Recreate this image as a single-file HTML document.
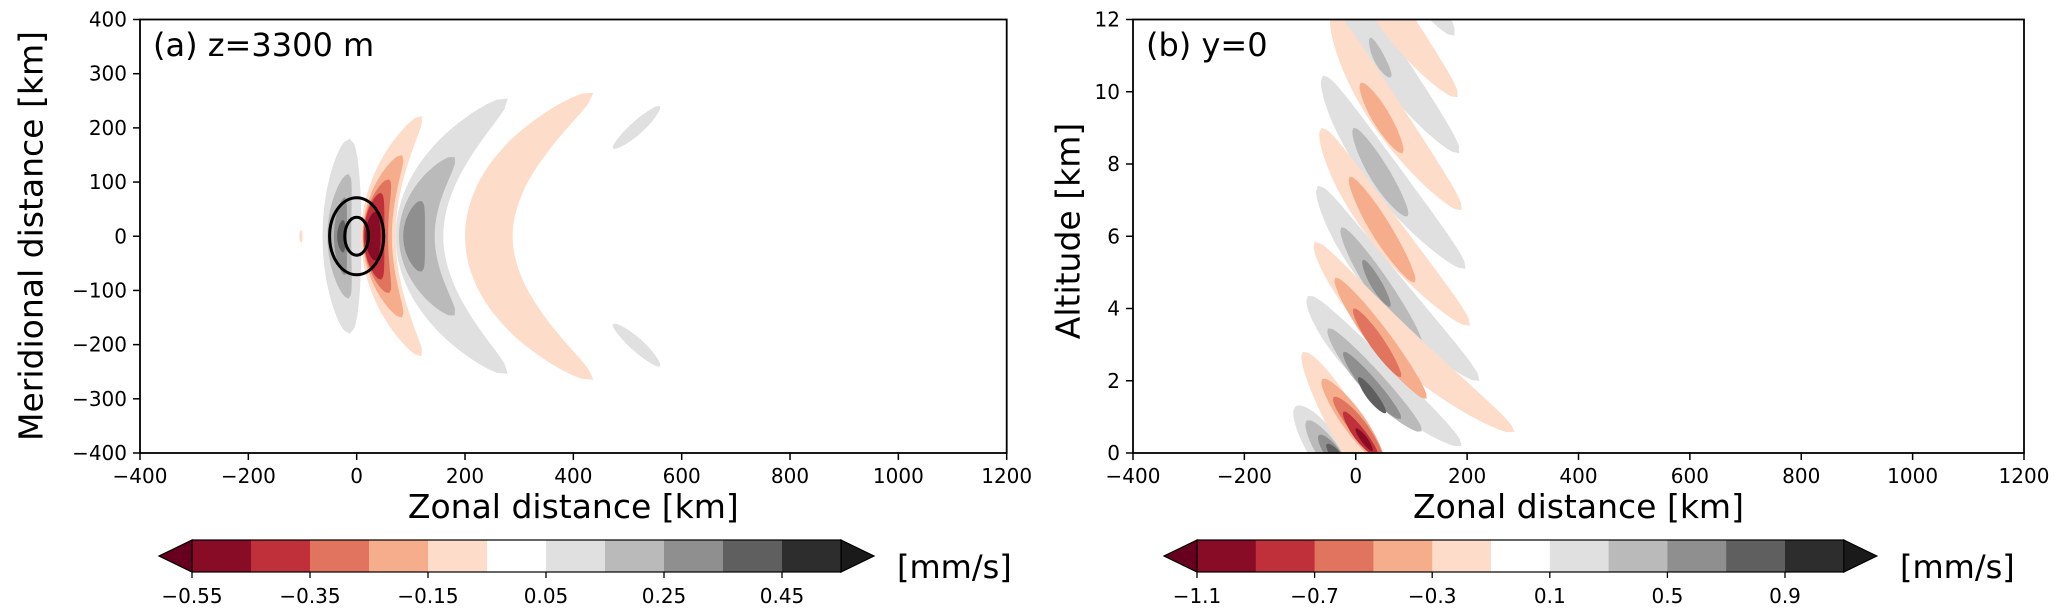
<!DOCTYPE html>
<html><head><meta charset="utf-8">
<style>
html,body{margin:0;padding:0;background:#fff;}
svg{display:block;font-family:"DejaVu Sans","Liberation Sans",sans-serif;}
</style></head>
<body>
<svg id="fig" width="2067" height="615" viewBox="0 0 2067 615" xmlns="http://www.w3.org/2000/svg">
<defs>
<clipPath id="clipA"><rect x="140" y="19.5" width="866.7" height="433.5"/></clipPath>
<clipPath id="clipB"><rect x="1133" y="19.5" width="891" height="433.5"/></clipPath>
</defs>
<rect width="2067" height="615" fill="#fff"/>
<g id="fieldA" clip-path="url(#clipA)"></g>
<g id="fieldB" clip-path="url(#clipB)"></g>
<g id="axes"></g>
</svg>
<script>
// ---- colour levels (RdGy_r, 11 bins) ----
const levelColors = ['#890c26','#c0303a','#e0745e','#f5ad8c','#fddcc9','#ffffff','#e0e0e0','#bababa','#8f8f8f','#5f5f5f','#2d2d2d'];
const underColor = '#67001f';
const overColor = '#1a1a1a';

// ---- panel a data (km): upper tip, middle, lower tip, half-width, level index ----
const aTipTopX = [-13,-15,-22,-25, 120,84,60,45,35, 279,181,120, 437, 560,473, -102];
const aTipTopY = [180,115,72,30, 222,150,105,80,45, 254,146,65, 265, 240,-162, 12];
const aMidX    = [-27,-32,-30,-28, 40,38,35,32,30, 116,111,106, 244, 517,517, -103];
const aMidY    = [0,0,0,0, 0,0,0,0,0, 0,0,0, 0, 200,-200, 0];
const aTipBotX = [-13,-15,-22,-25, 120,84,60,45,35, 279,181,120, 437, 473,560, -102];
const aTipBotY = [-180,-115,-72,-30, -222,-150,-105,-80,-45, -254,-146,-65, -265, 162,-240, -12];
const aHalfW   = [36,22,12,8, 32,27,23,19,14, 44,33,20, 44, 12,12, 3];
const aLevel   = [6,7,8,9, 4,3,2,1,0, 6,7,8, 4, 6,6, 4];
const ringRx = [50, 22];
const ringRy = [71, 35];

// ---- panel b data (x km, z km) ----
const bX0 = [-108,-88,-66,-52, -86,-50,-22,5, -68,-26,13, -59,-4, -44,26, -32,
             -95,-60,-40,-22,0, -74,-37,-4, -62,-11, -42,9, -38];
const bZ0 = [1.3,0.9,0.5,0.25, 4.35,3.45,2.8,2.1, 7.4,6.25,5.35, 10.45,9.0, 13.6,11.5, 16.9,
             2.8,2.05,1.55,1.15,0.68, 5.85,4.85,4.0, 9.0,7.65, 12.2,10.25, 15.2];
const bX1 = [-55,-48,-42,-38, 27,30,27,28, 50,42,36, 45,42, 50,43, 55,
             -20,-5,3,8,15, 75,40,36, 45,45, 50,45, 50];
const bZ1 = [0.1,0,0,0, 2.3,1.95,1.85,1.6, 4.7,4.6,4.7, 7.8,7.75, 11.0,10.9, 14.3,
             0.8,0.9,0.75,0.5,0.38, 3.1,3.2,3.1, 6.3,6.2, 9.5,9.3, 12.5];
const bX2 = [-5,-10,-18,-25, 190,118,81,54, 222,118,62, 197,93, 186,63, 177,
             45,50,48,40,30, 285,127,81, 205,106, 190,84, 183];
const bZ2 = [-1.2,-0.9,-0.5,-0.2, 0.2,0.6,0.95,1.1, 2.0,3.0,4.05, 5.1,6.55, 8.3,10.4, 11.55,
             -1.2,-0.3,-0.2,-0.1,0.05, 0.58,1.5,2.1, 3.52,4.72, 6.72,8.3, 9.85];
const bHalfW = [30,20,13,8, 31,21,14,9, 31,20,10, 31,18, 31,10, 31,
                29,20,15,11,6, 31,20,13, 31,18, 31,16, 31];
const bLevel = [6,7,8,9, 6,7,8,9, 6,7,8, 6,7, 6,7, 6,
                4,3,2,1,0, 4,3,2, 4,3, 4,3, 4];

// ---- axes / ticks ----
const xTicks = [-400,-200,0,200,400,600,800,1000,1200];
const yTicksA = [-400,-300,-200,-100,0,100,200,300,400];
const yTicksB = [0,2,4,6,8,10,12];
const cbTicksA = ['−0.55','−0.35','−0.15','0.05','0.25','0.45'];
const cbTicksB = ['−1.1','−0.7','−0.3','0.1','0.5','0.9'];

const NS='http://www.w3.org/2000/svg';
function el(tag,attrs,parent){const e=document.createElementNS(NS,tag);for(const k in attrs)e.setAttribute(k,attrs[k]);parent.appendChild(e);return e;}

const axA={l:140,t:19.5,w:866.7,h:433.5,xmin:-400,xmax:1200,ymin:-400,ymax:400};
const axB={l:1133,t:19.5,w:891,h:433.5,xmin:-400,xmax:1200,ymin:0,ymax:12};
function sx(ax,v){return ax.l+(v-ax.xmin)/(ax.xmax-ax.xmin)*ax.w;}
function sy(ax,v){return ax.t+ax.h-(v-ax.ymin)/(ax.ymax-ax.ymin)*ax.h;}
function kmpx(ax){return ax.w/(ax.xmax-ax.xmin);}

function band(g,ax,x0,y0,x1,y1,x2,y2,hw,color){
  const P0=[sx(ax,x0),sy(ax,y0)],P1=[sx(ax,x1),sy(ax,y1)],P2=[sx(ax,x2),sy(ax,y2)];
  const C=[2*P1[0]-0.5*(P0[0]+P2[0]),2*P1[1]-0.5*(P0[1]+P2[1])];
  const w=hw*kmpx(ax);const N=48;const L=[],R=[];
  for(let i=0;i<=N;i++){const t=i/N;
    const bx=(1-t)*(1-t)*P0[0]+2*t*(1-t)*C[0]+t*t*P2[0];
    const by=(1-t)*(1-t)*P0[1]+2*t*(1-t)*C[1]+t*t*P2[1];
    let dx=2*(1-t)*(C[0]-P0[0])+2*t*(P2[0]-C[0]);
    let dy=2*(1-t)*(C[1]-P0[1])+2*t*(P2[1]-C[1]);
    const n=Math.hypot(dx,dy)||1;dx/=n;dy/=n;
    const o=w*Math.pow(Math.sin(Math.PI*t),0.5);
    L.push((bx-dy*o).toFixed(1)+','+(by+dx*o).toFixed(1));
    R.push((bx+dy*o).toFixed(1)+','+(by-dx*o).toFixed(1));}
  return el('polygon',{points:L.concat(R.reverse()).join(' '),fill:color},g);
}

const gA=document.getElementById('fieldA');
for(let i=0;i<aLevel.length;i++){
  const p=band(gA,axA,aTipTopX[i],aTipTopY[i],aMidX[i],aMidY[i],aTipBotX[i],aTipBotY[i],aHalfW[i],levelColors[aLevel[i]]);
  
  
}
for(let i=0;i<ringRx.length;i++){
  const e=el('ellipse',{cx:sx(axA,0),cy:sy(axA,0),rx:ringRx[i]*kmpx(axA),ry:ringRy[i]*axA.h/800,fill:'none',stroke:'#000','stroke-width':3},gA);
  
  
}
const gB=document.getElementById('fieldB');
for(let i=0;i<bLevel.length;i++){
  const p=band(gB,axB,bX0[i],bZ0[i],bX1[i],bZ1[i],bX2[i],bZ2[i],bHalfW[i],levelColors[bLevel[i]]);
  
  
}

const gx=document.getElementById('axes');
function text(x,y,s,size,anchor,name,extra){const t=el('text',Object.assign({x:x,y:y,'font-size':size,'text-anchor':anchor,fill:'#000'},extra||{}),gx);t.textContent=s;
  
  
  return t;}

function drawAxes(ax,yt,fmtY,title,ylab,ylx,yly,pfx){
  const r=el('rect',{x:ax.l,y:ax.t,width:ax.w,height:ax.h,fill:'none',stroke:'#000','stroke-width':1.8},gx);
  
  
  xTicks.forEach(v=>{const x=sx(ax,v);
    el('line',{x1:x,y1:ax.t+ax.h,x2:x,y2:ax.t+ax.h+7,stroke:'#000','stroke-width':1.5},gx);
    text(x,483,String(v).replace('-','−'),20,'middle',pfx+'-x-tick-label');});
  yt.forEach(v=>{const y=sy(ax,v);
    el('line',{x1:ax.l-7,y1:y,x2:ax.l,y2:y,stroke:'#000','stroke-width':1.5},gx);
    text(ax.l-13,y+7,fmtY(v),20,'end',pfx+'-y-tick-label');});
  text(ax.l+ax.w/2,518,'Zonal distance [km]',33,'middle',pfx+'-x-axis-title');
  text(ylx,yly,ylab,33,'middle',pfx+'-y-axis-title',{transform:'rotate(-90 '+ylx+' '+yly+')','dominant-baseline':'central'});
  text(ax.l+13,56,title,32,'start',pfx+'-panel-title');
}
drawAxes(axA,yTicksA,v=>String(v).replace('-','−'),'(a) z=3300 m','Meridional distance [km]',31,236,'panel-a');
drawAxes(axB,yTicksB,v=>String(v),'(b) y=0','Altitude [km]',1068,231,'panel-b');

function colorbar(x0,segW,labels,lblX,pfx){
  const y0=540,h=32,n=levelColors.length,g=el('g',{},gx);
  
  
  el('polygon',{points:(x0)+','+y0+' '+(x0-33)+','+(y0+h/2)+' '+x0+','+(y0+h),fill:underColor,stroke:'#000','stroke-width':1.2},g);
  el('polygon',{points:(x0+n*segW)+','+y0+' '+(x0+n*segW+33)+','+(y0+h/2)+' '+(x0+n*segW)+','+(y0+h),fill:overColor,stroke:'#000','stroke-width':1.2},g);
  levelColors.forEach((c,i)=>{el('rect',{x:x0+i*segW,y:y0,width:segW+0.5,height:h,fill:c},g);});
  el('rect',{x:x0,y:y0,width:n*segW,height:h,fill:'none',stroke:'#000','stroke-width':1.2},g);
  labels.forEach((s,i)=>{const x=x0+i*2*segW;
    el('line',{x1:x,y1:y0+h,x2:x,y2:y0+h+6,stroke:'#000','stroke-width':1.3},g);
    text(x,603,s,20,'middle',pfx+'-colorbar-tick-label');});
  text(lblX,578,'[mm/s]',32,'start',pfx+'-colorbar-unit');
}
colorbar(192,59,cbTicksA,897,'panel-a');
colorbar(1197,58.8,cbTicksB,1900,'panel-b');
</script>
</body></html>
